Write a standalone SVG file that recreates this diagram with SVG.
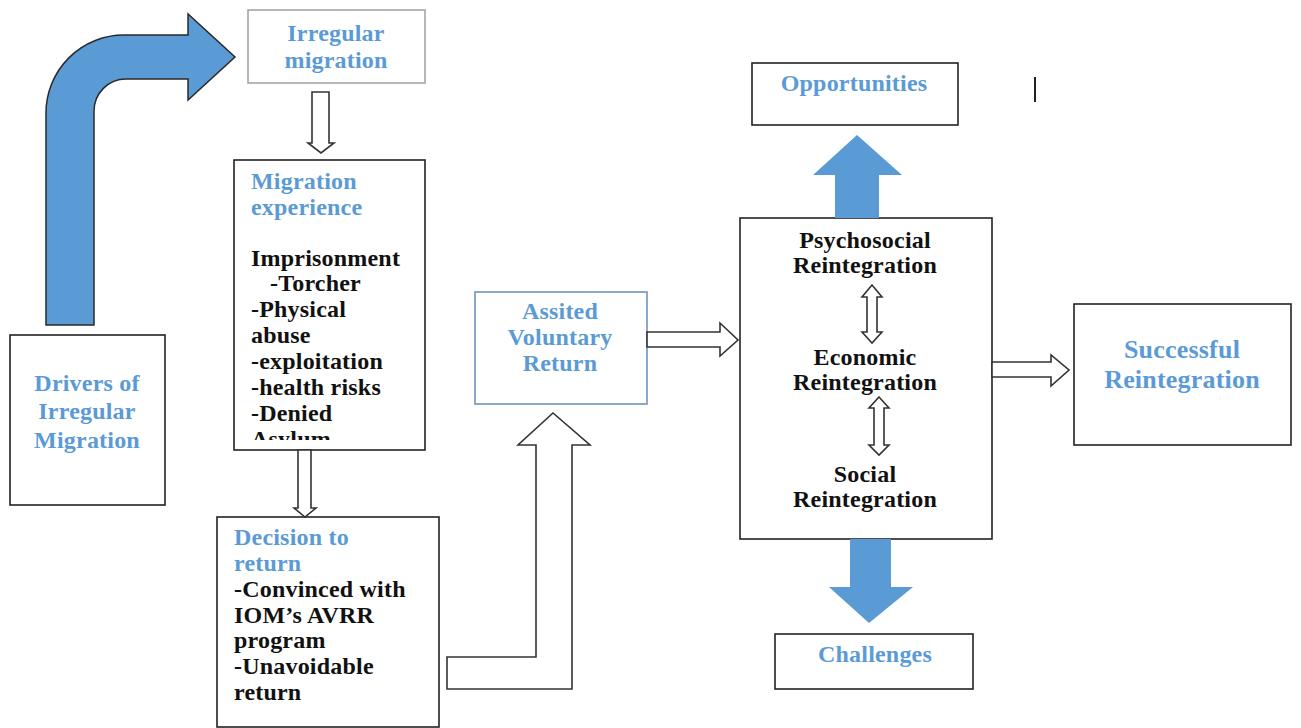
<svg xmlns="http://www.w3.org/2000/svg" width="1301" height="728" viewBox="0 0 1301 728">
<style>
.box{fill:#fff;stroke:#222;stroke-width:1.6}
.t{font-family:"Liberation Serif","Times New Roman",serif;font-weight:bold;font-size:24px;letter-spacing:0.2px}
.b{fill:#5b9bd5}
.k{fill:#111}
.open{fill:#fff;stroke:#333;stroke-width:1.6;stroke-linejoin:miter}
.blue{fill:#5b9bd5}
</style>
<defs>
<clipPath id="clipME"><rect x="234" y="160" width="191" height="280"/></clipPath>
</defs>
<rect width="1301" height="728" fill="#fff"/>

<g id="irregular-migration">
<rect x="248" y="10" width="177" height="73" fill="#fff" stroke="#a6a6a6" stroke-width="1.6"/>
<text class="t b" x="336" y="41" text-anchor="middle">Irregular</text>
<text class="t b" x="336" y="68" text-anchor="middle">migration</text>
</g>

<g id="migration-experience">
<rect class="box" x="234" y="160" width="191" height="290"/>
<g clip-path="url(#clipME)">
<text class="t b" x="251" y="189">Migration</text>
<text class="t b" x="251" y="215">experience</text>
<text class="t k" x="251" y="266">Imprisonment</text>
<text class="t k" x="270" y="291">-Torcher</text>
<text class="t k" x="251" y="317">-Physical</text>
<text class="t k" x="251" y="343">abuse</text>
<text class="t k" x="251" y="369">-exploitation</text>
<text class="t k" x="251" y="395">-health risks</text>
<text class="t k" x="251" y="421">-Denied</text>
<text class="t k" x="251" y="447">Asylum</text>
</g>
</g>

<g id="drivers">
<rect class="box" x="10" y="335" width="155" height="170"/>
<text class="t b" x="87" y="391" text-anchor="middle">Drivers of</text>
<text class="t b" x="87" y="419" text-anchor="middle">Irregular</text>
<text class="t b" x="87" y="448" text-anchor="middle">Migration</text>
</g>

<g id="decision">
<rect class="box" x="217" y="517" width="222" height="210"/>
<text class="t b" x="234" y="545">Decision to</text>
<text class="t b" x="234" y="571">return</text>
<text class="t k" x="234" y="597">-Convinced with</text>
<text class="t k" x="234" y="623">IOM’s AVRR</text>
<text class="t k" x="234" y="648">program</text>
<text class="t k" x="234" y="674">-Unavoidable</text>
<text class="t k" x="234" y="700">return</text>
</g>

<g id="avr">
<rect x="475" y="292" width="172" height="112" fill="#fff" stroke="#6f94bd" stroke-width="1.6"/>
<text class="t b" x="560" y="319" text-anchor="middle">Assited</text>
<text class="t b" x="560" y="345" text-anchor="middle">Voluntary</text>
<text class="t b" x="560" y="371" text-anchor="middle">Return</text>
</g>

<g id="reintegration">
<rect class="box" x="740" y="218" width="252" height="321"/>
<text class="t k" x="865" y="248" text-anchor="middle">Psychosocial</text>
<text class="t k" x="865" y="273" text-anchor="middle">Reintegration</text>
<text class="t k" x="865" y="365" text-anchor="middle">Economic</text>
<text class="t k" x="865" y="390" text-anchor="middle">Reintegration</text>
<text class="t k" x="865" y="482" text-anchor="middle">Social</text>
<text class="t k" x="865" y="507" text-anchor="middle">Reintegration</text>
</g>

<g id="opportunities">
<rect class="box" x="752" y="63" width="206" height="62"/>
<text class="t b" x="854" y="91" text-anchor="middle">Opportunities</text>
</g>

<g id="challenges">
<rect class="box" x="775" y="634" width="198" height="55"/>
<text class="t b" x="875" y="662" text-anchor="middle">Challenges</text>
</g>

<g id="successful">
<rect class="box" x="1074" y="304" width="217" height="141"/>
<text class="t b" x="1182" y="358" text-anchor="middle" style="font-size:26px">Successful</text>
<text class="t b" x="1182" y="388" text-anchor="middle" style="font-size:26px">Reintegration</text>
</g>

<g id="connectors">
<path class="blue" stroke="#2a2a2a" stroke-width="1.5" d="M46,325 L46,113 A78,78 0 0 1 124,35 L188,35 L188,14 L235,57 L188,100 L188,79 L126,79 A32,32 0 0 0 94,111 L94,325 Z"/>
<path class="open" d="M312,92 L329,92 L329,143 L334,143 L321,153 L308,143 L312,143 Z"/>
<path class="open" d="M298,450 L311,450 L311,508 L316,508 L305,517 L294,508 L298,508 Z"/>
<path class="open" d="M447,657 L536,657 L536,445 L518,445 L553,413 L590,445 L572,445 L572,689 L447,689 Z"/>
<path class="open" d="M647,332 L720,332 L720,323 L738,340 L720,356 L720,347 L647,347 Z"/>
<path class="open" d="M992,362 L1051,362 L1051,355 L1069,370 L1051,386 L1051,377 L992,377 Z"/>
<path class="open" d="M872,285 L882,297 L877,297 L877,332 L882,332 L872,343 L862,332 L867,332 L867,297 L862,297 Z"/>
<path class="open" d="M879,397 L889,408 L884,408 L884,445 L889,445 L879,455 L869,445 L874,445 L874,408 L869,408 Z"/>
<path class="blue" d="M835,218 L835,175 L813,175 L857,135 L902,175 L879,175 L879,218 Z"/>
<path class="blue" d="M850,539 L891,539 L891,587 L913,587 L869,623 L829,587 L850,587 Z"/>
<line x1="1035" y1="77" x2="1035" y2="102" stroke="#222" stroke-width="2"/>
</g>
</svg>
